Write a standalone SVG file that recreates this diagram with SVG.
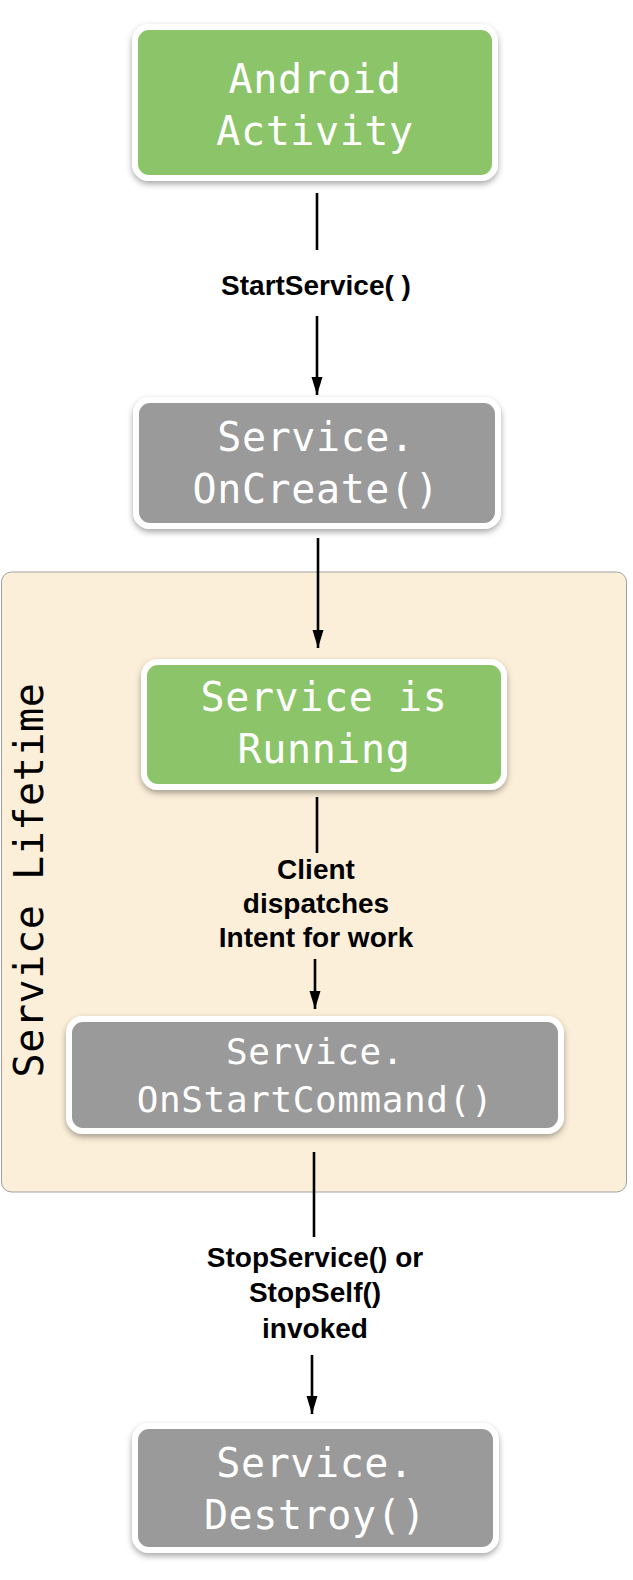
<svg xmlns="http://www.w3.org/2000/svg" width="633" height="1580" viewBox="0 0 633 1580">
  <style>
    .node { stroke: #ffffff; stroke-width: 6; filter: url(#shadow); }
    .green { fill: #8cc569; }
    .gray { fill: #9a9a9a; }
    .ntext { font-family: "DejaVu Sans Mono", "Liberation Mono", monospace; font-size: 40px; letter-spacing: 0.6px; fill: #ffffff; text-anchor: middle; }
    .small { font-size: 36px; letter-spacing: 0.6px; }
    .label { font-family: "Liberation Sans", Arial, sans-serif; font-weight: bold; font-size: 28px; fill: #000000; text-anchor: middle; }
    .conn { stroke: #000000; stroke-width: 2.6; fill: none; }
    .lifetime { fill: #fcefd9; stroke: #a0a0a0; stroke-width: 1; }
    .ltext { font-family: "DejaVu Sans Mono", "Liberation Mono", monospace; font-size: 40px; letter-spacing: 0.6px; fill: #000000; text-anchor: middle; }
  </style>
  <defs>
    <filter id="shadow" x="-10%" y="-15%" width="120%" height="140%">
      <feDropShadow dx="0" dy="3" stdDeviation="3" flood-color="#000000" flood-opacity="0.35"/>
    </filter>
    <marker id="arrow" viewBox="0 0 18 12" refX="18" refY="6" markerWidth="18" markerHeight="12" markerUnits="userSpaceOnUse" orient="auto">
      <path d="M0,0.5 L18,6 L0,11.5 Z" fill="#000000"/>
    </marker>
  </defs>

  <g id="lifetime">
    <rect class="lifetime" x="1.5" y="572" width="625" height="620" rx="10"/>
    <text class="ltext" transform="translate(43,880) rotate(-90)" x="0" y="0">Service Lifetime</text>
  </g>

  <g id="connectors">
    <line class="conn" x1="317" y1="193" x2="317" y2="250"/>
    <line class="conn" x1="317" y1="316" x2="317" y2="395" marker-end="url(#arrow)"/>
    <text class="label" x="316" y="295">StartService( )</text>

    <line class="conn" x1="318" y1="538" x2="318" y2="648" marker-end="url(#arrow)"/>

    <line class="conn" x1="317" y1="797" x2="317" y2="853"/>
    <text class="label" x="316" y="879">Client</text>
    <text class="label" x="316" y="913">dispatches</text>
    <text class="label" x="316" y="947">Intent for work</text>
    <line class="conn" x1="315" y1="959" x2="315" y2="1009" marker-end="url(#arrow)"/>

    <line class="conn" x1="314" y1="1152" x2="314" y2="1237"/>
    <text class="label" x="315" y="1267">StopService() or</text>
    <text class="label" x="315" y="1302">StopSelf()</text>
    <text class="label" x="315" y="1338">invoked</text>
    <line class="conn" x1="312" y1="1355" x2="312" y2="1414" marker-end="url(#arrow)"/>
  </g>

  <g id="node-activity">
    <rect class="node green" x="135" y="27" width="360" height="151" rx="14"/>
    <text class="ntext" x="315" y="93">Android</text>
    <text class="ntext" x="315" y="145">Activity</text>
  </g>

  <g id="node-oncreate">
    <rect class="node gray" x="136" y="400" width="362" height="126" rx="14"/>
    <text class="ntext" x="316" y="451">Service.</text>
    <text class="ntext" x="316" y="503">OnCreate()</text>
  </g>

  <g id="node-running">
    <rect class="node green" x="144" y="662" width="360" height="125" rx="14"/>
    <text class="ntext" x="324" y="711">Service is</text>
    <text class="ntext" x="324" y="763">Running</text>
  </g>

  <g id="node-onstartcommand">
    <rect class="node gray" x="69" y="1019" width="492" height="112" rx="14"/>
    <text class="ntext small" x="315" y="1064">Service.</text>
    <text class="ntext small" x="315" y="1112">OnStartCommand()</text>
  </g>

  <g id="node-destroy">
    <rect class="node gray" x="135" y="1426" width="361" height="124" rx="14"/>
    <text class="ntext" x="315" y="1477">Service.</text>
    <text class="ntext" x="315" y="1529">Destroy()</text>
  </g>
</svg>
